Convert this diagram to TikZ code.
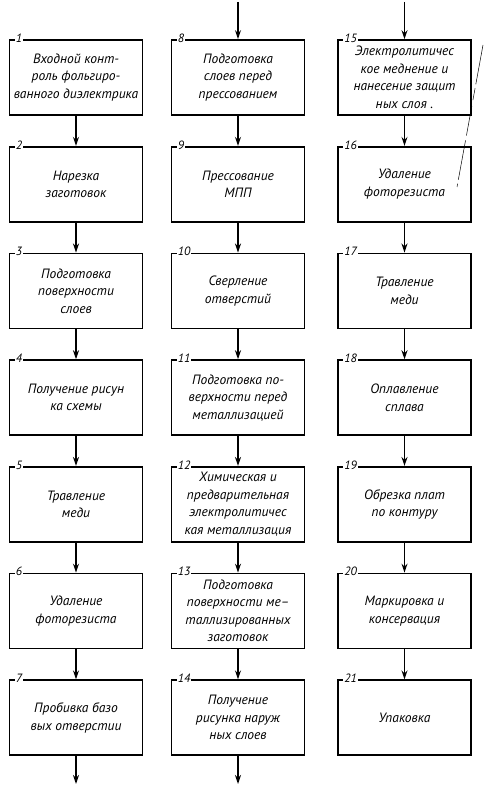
\documentclass[tikz,border=0pt]{standalone}
\usepackage{fontspec}
\setmainfont{PT Sans}
\usetikzlibrary{arrows.meta, positioning}

\begin{document}
\begin{tikzpicture}[x=1pt, y=1pt, >={Stealth[length=9pt, width=6pt]},
    stagebox/.style={draw, line width=1.7pt, minimum width=133pt, minimum height=75pt,
        align=center, inner sep=2pt, font=\fontsize{13.5}{17.5}\selectfont\itshape},
    stagenum/.style={fill=white, inner sep=1pt, anchor=west, font=\fontsize{12}{12}\selectfont\itshape},
    flow/.style={line width=1.4pt, ->},
    node distance=30pt]
    \useasboundingbox (0,0) rectangle (484,-789);

    % Column 1
    \node[stagebox] (s1) at (76,-77.5) {Входной конт-\\роль фольгиро-\\ванного диэлектрика};
    \node[stagebox, below=of s1] (s2) {Нарезка\\заготовок};
    \node[stagebox, below=of s2] (s3) {Подготовка\\поверхности\\слоев};
    \node[stagebox, below=of s3] (s4) {Получение рисун\\ка схемы};
    \node[stagebox, below=of s4] (s5) {Травление\\меди};
    \node[stagebox, below=of s5] (s6) {Удаление\\фоторезиста};
    \node[stagebox, below=of s6] (s7) {Пробивка базо\\вых отверстии};

    % Column 2
    \node[stagebox] (s8) at (238,-77.5) {Подготовка\\слоев перед\\прессованием};
    \node[stagebox, below=of s8] (s9) {Прессование\\МПП};
    \node[stagebox, below=of s9] (s10) {Сверление\\отверстий};
    \node[stagebox, below=of s10] (s11) {Подготовка по-\\верхности перед\\металлизацией};
    \node[stagebox, below=of s11] (s12) {Химическая и\\предварительная\\электролитичес\\кая металлизация};
    \node[stagebox, below=of s12] (s13) {Подготовка\\поверхности ме–\\таллизированных\\заготовок};
    \node[stagebox, below=of s13] (s14) {Получение\\рисунка наруж\\ных слоев};

    % Column 3
    \node[stagebox] (s15) at (404.5,-77.5) {Электролитичес\\кое меднение и\\нанесение защит\\ных слоя .};
    \node[stagebox, below=of s15] (s16) {Удаление\\фоторезиста};
    \node[stagebox, below=of s16] (s17) {Травление\\меди};
    \node[stagebox, below=of s17] (s18) {Оплавление\\сплава};
    \node[stagebox, below=of s18] (s19) {Обрезка плат\\по контуру};
    \node[stagebox, below=of s19] (s20) {Маркировка и\\консервация};
    \node[stagebox, below=of s20] (s21) {Упаковка};

    % Step numbers on the top edges
    \foreach \i in {1,...,21}
        \node[stagenum] (n\i) at ([xshift=6pt, yshift=1pt]s\i.north west) {\i};

    % Arrows inside the columns
    \foreach \i/\j in {1/2, 2/3, 3/4, 4/5, 5/6, 6/7,
                       8/9, 9/10, 10/11, 11/12, 12/13, 13/14,
                       15/16, 16/17, 17/18, 18/19, 19/20, 20/21}
        \draw[flow] (s\i) -- (s\j);

    % Incoming and outgoing arrows
    \coordinate (in8) at (s8.north |- 0,-2);
    \coordinate (in15) at (s15.north |- 0,-2);
    \coordinate (out7) at (s7.south |- 0,-784);
    \coordinate (out14) at (s14.south |- 0,-784);
    \draw[flow] (in8) -- (s8);
    \draw[flow] (in15) -- (s15);
    \draw[flow] (s7) -- (out7);
    \draw[flow] (s14) -- (out14);

    % Stray pencil line at the right
    \draw[line width=0.5pt, dash pattern=on 40pt off 4pt on 12pt off 6pt on 30pt off 5pt] (483,-45) -- (457,-187);
\end{tikzpicture}
\end{document}
